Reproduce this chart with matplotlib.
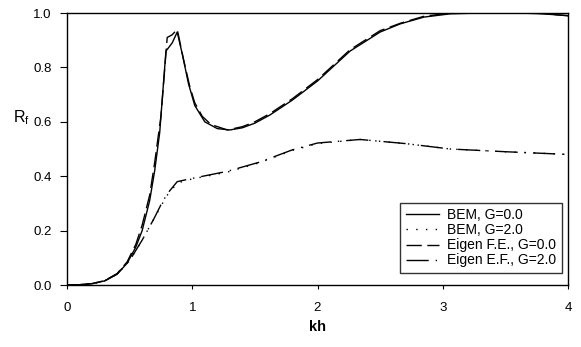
import matplotlib

matplotlib.use("Agg", force=True)

import matplotlib.pyplot as plt

# BEM, G=0.0 (solid)
kh_bem0 = [0.0, 0.1, 0.2, 0.3, 0.4, 0.48, 0.55, 0.6, 0.66, 0.7, 0.74, 0.79, 0.84, 0.88,
           0.92, 0.97, 1.02, 1.1, 1.2, 1.3, 1.4, 1.5, 1.62, 1.8, 2.0, 2.26, 2.5, 2.66,
           2.85, 3.06, 3.3, 3.6, 3.8, 4.0]
r_bem0 = [0.0, 0.001, 0.005, 0.015, 0.04, 0.08, 0.14, 0.2, 0.31, 0.42, 0.56, 0.86, 0.89, 0.93,
          0.85, 0.74, 0.66, 0.6, 0.575, 0.57, 0.578, 0.595, 0.625, 0.68, 0.75, 0.86, 0.93, 0.96,
          0.985, 0.997, 1.0, 1.0, 0.997, 0.99]

# BEM, G=2.0 (dotted)
kh_bem2 = [0.0, 0.1, 0.2, 0.3, 0.4, 0.5, 0.6, 0.69, 0.75, 0.8, 0.88, 1.0, 1.28, 1.54, 1.8,
           2.0, 2.34, 2.7, 3.06, 3.5, 4.0]
r_bem2 = [0.0, 0.001, 0.005, 0.015, 0.04, 0.09, 0.165, 0.24, 0.29, 0.33, 0.375, 0.39, 0.415, 0.45,
          0.495, 0.52, 0.535, 0.52, 0.5, 0.49, 0.48]

# Eigen F.E., G=0.0 (dashed)
kh_eig0 = [0.0, 0.1, 0.2, 0.3, 0.4, 0.48, 0.55, 0.6, 0.66, 0.7, 0.75, 0.8, 0.84, 0.88,
           0.93, 0.98, 1.02, 1.08, 1.15, 1.28, 1.4, 1.5, 1.62, 1.8, 2.0, 2.26, 2.5, 2.66,
           2.85, 3.06, 3.3, 3.6, 3.8, 4.0]
r_eig0 = [0.0, 0.001, 0.005, 0.016, 0.042, 0.085, 0.15, 0.22, 0.33, 0.45, 0.62, 0.91, 0.92, 0.94,
          0.83, 0.73, 0.67, 0.62, 0.59, 0.57, 0.582, 0.6, 0.63, 0.685, 0.755, 0.865, 0.935, 0.962,
          0.988, 1.0, 1.002, 1.002, 0.998, 0.99]

# Eigen E.F., G=2.0 (dash-dot)
kh_eig2 = [0.0, 0.1, 0.2, 0.3, 0.4, 0.5, 0.6, 0.69, 0.75, 0.8, 0.88, 1.0, 1.28, 1.54, 1.8,
           2.0, 2.34, 2.7, 3.06, 3.5, 4.0]
r_eig2 = [0.0, 0.001, 0.005, 0.015, 0.04, 0.09, 0.165, 0.24, 0.295, 0.335, 0.38, 0.392, 0.418, 0.452,
          0.497, 0.522, 0.535, 0.52, 0.5, 0.49, 0.48]

plt.rcParams["font.family"] = ["Liberation Sans", "DejaVu Sans"]

fig = plt.figure(figsize=(5.81, 3.47), dpi=100)
ax = fig.add_axes([67 / 581, 1 - 285 / 347, 501 / 581, 272 / 347])

ax.plot(kh_bem0, r_bem0, color="black", lw=1.0, ls="-", label="BEM, G=0.0")
ax.plot(kh_bem2, r_bem2, color="black", lw=1.0, ls=(0, (1, 6)), label="BEM, G=2.0")
ax.plot(kh_eig0, r_eig0, color="black", lw=1.0, ls=(0, (11, 4)), label="Eigen F.E., G=0.0")
ax.plot(kh_eig2, r_eig2, color="black", lw=1.0, ls=(0, (16, 5, 1, 5)), label="Eigen E.F., G=2.0")

ax.set_xlim(0, 4)
ax.set_ylim(0, 1.0)
ax.set_xticks([0, 1, 2, 3, 4])
ax.set_yticks([0.0, 0.2, 0.4, 0.6, 0.8, 1.0])
ax.set_yticklabels(["0.0", "0.2", "0.4", "0.6", "0.8", "1.0"])
ax.tick_params(axis="y", direction="out", length=5, width=0.8, labelsize=9.5, pad=6)
ax.tick_params(axis="x", direction="out", length=3, width=0.8, labelsize=9.5, pad=9)
for s in ax.spines.values():
    s.set_linewidth(1.0)

ax.set_xlabel("kh", fontsize=10.5, fontweight="bold")
ax.xaxis.set_label_coords(0.5, -0.13)
ax.set_ylabel("R$_\\mathregular{f}$", fontsize=11.5, rotation=0)
ax.yaxis.set_label_coords(-0.09, 0.58)

leg = ax.legend(loc="lower right", bbox_to_anchor=(0.988, 0.044), fontsize=10,
                frameon=True, fancybox=False, edgecolor="black", handlelength=2.4,
                handletextpad=0.6, borderpad=0.4, labelspacing=0.08, borderaxespad=0)
leg.get_frame().set_linewidth(1.0)

fig.savefig("out.png", dpi=100)
